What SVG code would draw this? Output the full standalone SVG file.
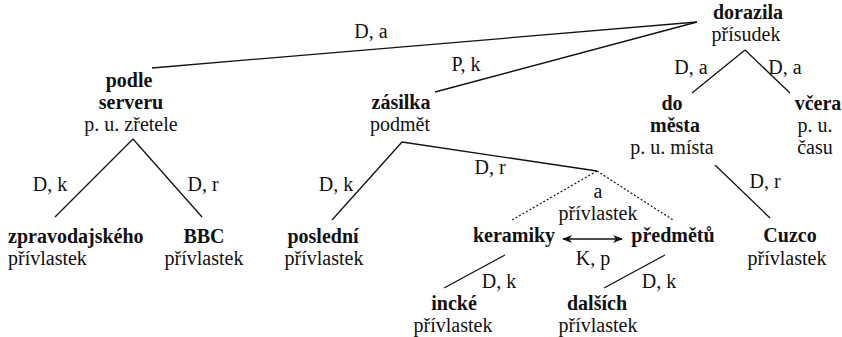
<svg xmlns="http://www.w3.org/2000/svg" width="842" height="337" viewBox="0 0 842 337">
<style>
text{font-size:20px;fill:#111;text-anchor:middle}
.b{font-weight:bold}
.l{text-anchor:start}
.e line{stroke:#111;stroke-width:1.3;fill:none}
.e line.d{stroke-dasharray:2 2;stroke-width:1.2}
</style>
<defs>
<marker id="ah" viewBox="0 0 10 10" refX="9" refY="5" markerWidth="10" markerHeight="10" markerUnits="userSpaceOnUse" orient="auto-start-reverse">
<path d="M0,1 L10,5 L0,9 L3,5 Z" fill="#111"/>
</marker>
</defs>
<rect width="842" height="337" fill="#fff"/>
<g id="edges" class="e" font-family="Liberation Serif, serif">
<line x1="697" y1="22" x2="152" y2="68"/>
<line x1="697" y1="22" x2="435" y2="92"/>
<line x1="745" y1="50" x2="692" y2="93"/>
<line x1="745" y1="50" x2="790" y2="93"/>
<line x1="133" y1="139" x2="55" y2="217"/>
<line x1="133" y1="139" x2="202" y2="217"/>
<line x1="402" y1="142" x2="332" y2="220"/>
<line x1="402" y1="142" x2="597" y2="171"/>
<line class="d" x1="597" y1="171" x2="512" y2="220"/>
<line class="d" x1="597" y1="171" x2="673" y2="220"/>
<line x1="715" y1="165" x2="770" y2="218"/>
<line x1="505" y1="255" x2="444" y2="288"/>
<line x1="665" y1="255" x2="604" y2="288"/>
<line x1="563" y1="239" x2="622" y2="239" stroke-width="1.6" marker-start="url(#ah)" marker-end="url(#ah)"/>
<text x="371" y="38">D, a</text>
<text x="466" y="71">P, k</text>
<text x="691" y="74">D, a</text>
<text x="785" y="74">D, a</text>
<text x="50" y="191">D, k</text>
<text x="203" y="191">D, r</text>
<text x="336" y="191">D, k</text>
<text x="490" y="174">D, r</text>
<text x="598" y="198">a</text>
<text x="598" y="220">přívlastek</text>
<text x="765" y="188">D, r</text>
<text x="593" y="265">K, p</text>
<text x="499" y="288">D, k</text>
<text x="659" y="288">D, k</text>
</g>
<g id="nodes" font-family="Liberation Serif, serif">
<g id="dorazila"><text class="b" x="748" y="19">dorazila</text><text x="746" y="41">přísudek</text></g>
<g id="podle-serveru"><text class="b" x="129" y="87">podle</text><text class="b" x="131" y="109">serveru</text><text x="131" y="131">p. u. zřetele</text></g>
<g id="zasilka"><text class="b" x="401" y="109">zásilka</text><text x="400" y="131">podmět</text></g>
<g id="do-mesta"><text class="b" x="672" y="110">do</text><text class="b" x="675" y="132">města</text><text x="672" y="154">p. u. místa</text></g>
<g id="vcera"><text class="b" x="818" y="110">včera</text><text x="815" y="132">p. u.</text><text x="815" y="154">času</text></g>
<g id="zpravodajskeho"><text class="b l" x="8" y="243">zpravodajského</text><text class="l" x="8" y="265">přívlastek</text></g>
<g id="bbc"><text class="b" x="204" y="243">BBC</text><text x="204" y="265">přívlastek</text></g>
<g id="posledni"><text class="b" x="323" y="243">poslední</text><text x="324" y="265">přívlastek</text></g>
<g id="keramiky"><text class="b" x="514" y="242">keramiky</text></g>
<g id="predmetu"><text class="b" x="673" y="242">předmětů</text></g>
<g id="cuzco"><text class="b" x="790" y="242">Cuzco</text><text x="787" y="265">přívlastek</text></g>
<g id="incke"><text class="b" x="454" y="310">incké</text><text x="453" y="332">přívlastek</text></g>
<g id="dalsich"><text class="b" x="597" y="310">dalších</text><text x="598" y="332">přívlastek</text></g>
</g>
</svg>
